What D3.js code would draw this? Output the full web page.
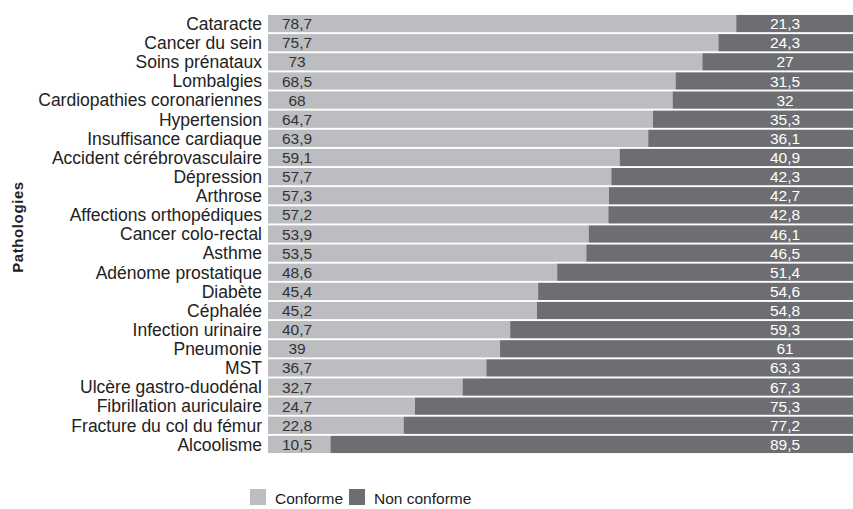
<!DOCTYPE html>
<html><head><meta charset="utf-8">
<script src="https://cdn.jsdelivr.net/npm/d3@7"></script>
<style>body{margin:0;background:#fff}svg{display:block}</style>
</head><body>
<script>
const categories = ["Cataracte","Cancer du sein","Soins prénataux","Lombalgies","Cardiopathies coronariennes","Hypertension","Insuffisance cardiaque","Accident cérébrovasculaire","Dépression","Arthrose","Affections orthopédiques","Cancer colo-rectal","Asthme","Adénome prostatique","Diabète","Céphalée","Infection urinaire","Pneumonie","MST","Ulcère gastro-duodénal","Fibrillation auriculaire","Fracture du col du fémur","Alcoolisme"];
const conforme = [78.7,75.7,73,68.5,68,64.7,63.9,59.1,57.7,57.3,57.2,53.9,53.5,48.6,45.4,45.2,40.7,39,36.7,32.7,24.7,22.8,10.5];
const nonConforme = [21.3,24.3,27,31.5,32,35.3,36.1,40.9,42.3,42.7,42.8,46.1,46.5,51.4,54.6,54.8,59.3,61,63.3,67.3,75.3,77.2,89.5];
const seriesNames = ["Conforme","Non conforme"];
const colors = ["#bcbdc0","#6d6e71"];
const axisTitle = "Pathologies";

const W = 853, H = 509;
const svg = d3.select("body").append("svg").attr("width", W).attr("height", H);
const font = "'Liberation Sans', Arial, sans-serif";

const x = d3.scaleLinear().domain([0,100]).range([268, 863]);
const y = d3.scaleBand().domain(categories).range([14, 454]).paddingInner(0.1).paddingOuter(0.05);

const rows = categories.map((c,i)=>({c, a: conforme[i], b: nonConforme[i]}));

const g = svg.append("g");
g.selectAll("rect.a").data(rows).join("rect").attr("class","a")
  .attr("x", x(0)).attr("y", d=>y(d.c)).attr("width", d=>x(d.a)-x(0)).attr("height", y.bandwidth())
  .attr("fill", colors[0]);
g.selectAll("rect.b").data(rows).join("rect").attr("class","b")
  .attr("x", d=>x(d.a)).attr("y", d=>y(d.c)).attr("width", d=>x(d.a+d.b)-x(d.a)).attr("height", y.bandwidth())
  .attr("fill", colors[1]);

const fmt = v => String(v).replace(".", ",");
g.selectAll("text.la").data(rows).join("text").attr("class","la")
  .attr("x", 297).attr("y", d=>y(d.c)+y.bandwidth()/2).attr("dy","0.36em")
  .attr("text-anchor","middle").attr("font-family",font).attr("font-size",15.5)
  .attr("fill","#333").text(d=>fmt(d.a));
g.selectAll("text.lb").data(rows).join("text").attr("class","lb")
  .attr("x", 785).attr("y", d=>y(d.c)+y.bandwidth()/2).attr("dy","0.36em")
  .attr("text-anchor","middle").attr("font-family",font).attr("font-size",15.5)
  .attr("fill","#fff").text(d=>fmt(d.b));

// category axis
const ax = svg.append("g").attr("transform", `translate(${x(0)},0)`)
  .call(d3.axisLeft(y).tickSize(0).tickPadding(6));
ax.select(".domain").remove();
ax.selectAll("text").attr("font-family",font).attr("font-size",17.5).attr("fill","#222").attr("dy","0.36em");

svg.append("text").attr("transform","translate(23,227) rotate(-90)")
  .attr("text-anchor","middle").attr("font-family",font).attr("font-size",15)
  .attr("letter-spacing","0.6px")
  .attr("font-weight","bold").attr("fill","#222").text(axisTitle);

// legend
const lg = svg.append("g");
const lx = [250, 349];
seriesNames.forEach((s,i)=>{
  lg.append("rect").attr("x", lx[i]).attr("y", 489).attr("width",16).attr("height",16).attr("fill",colors[i]);
  lg.append("text").attr("x", lx[i]+25).attr("y", 504).attr("font-family",font).attr("font-size",15.5)
    .attr("fill","#222").text(s);
});
</script>
</body></html>
